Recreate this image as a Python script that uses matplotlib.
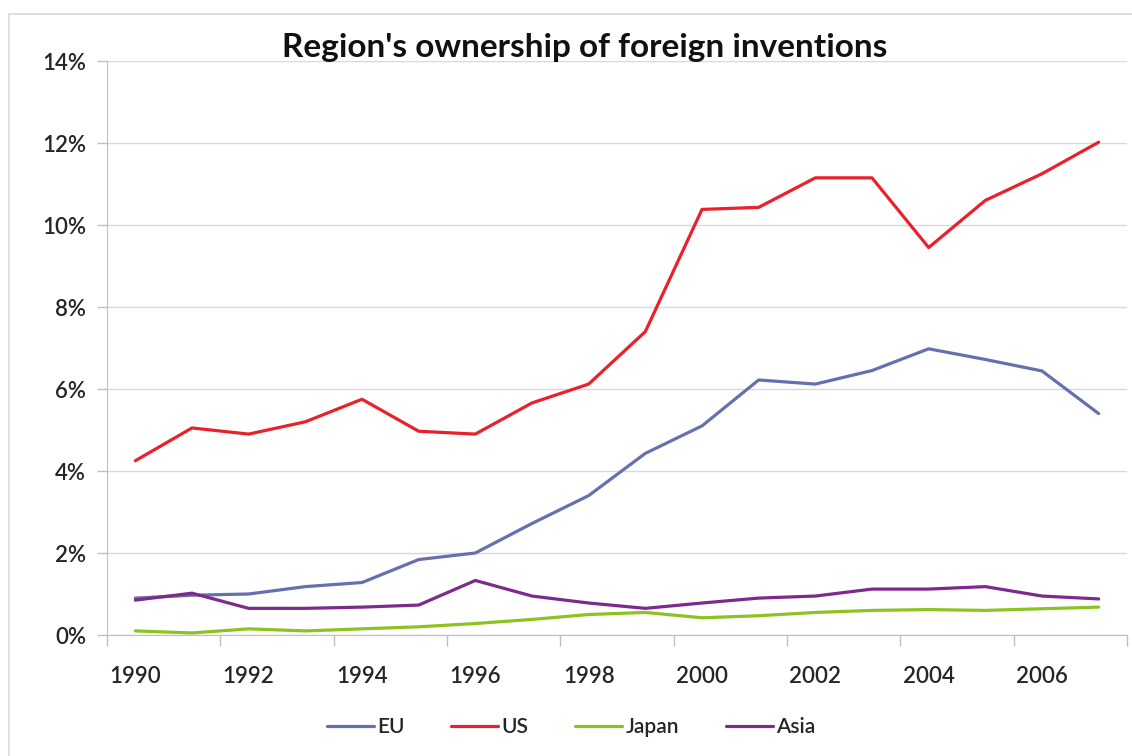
import matplotlib
matplotlib.use("Agg")
import matplotlib.pyplot as plt
from matplotlib.patches import Rectangle
import numpy as np

years = list(range(1990, 2008))
eu = [0.90, 0.97, 1.00, 1.18, 1.28, 1.84, 2.00, 2.72, 3.40, 4.43, 5.10, 6.22, 6.12, 6.45, 6.98, 6.72, 6.44, 5.40]
us = [4.25, 5.05, 4.90, 5.20, 5.75, 4.97, 4.90, 5.66, 6.12, 7.40, 10.38, 10.43, 11.15, 11.15, 9.45, 10.60, 11.25, 12.02]
japan = [0.10, 0.05, 0.15, 0.10, 0.15, 0.20, 0.28, 0.38, 0.50, 0.55, 0.42, 0.47, 0.55, 0.60, 0.62, 0.60, 0.64, 0.68]
asia = [0.85, 1.02, 0.65, 0.65, 0.68, 0.73, 1.33, 0.95, 0.78, 0.65, 0.78, 0.90, 0.95, 1.12, 1.12, 1.18, 0.95, 0.88]
series_names = ["EU", "US", "Japan", "Asia"]
series_colors = ["#6670AE", "#E8212A", "#8CC320", "#7C2A8C"]
yticks = [0, 2, 4, 6, 8, 10, 12, 14]

plt.rcParams['font.family'] = ['Lato', 'DejaVu Sans']
TXT = "#262626"

W, H = 1132, 756
fig = plt.figure(figsize=(W / 100, H / 100), dpi=100)
ax = fig.add_axes([107 / W, 1 - 635 / H, (1127 - 107) / W, (635 - 61) / H])

# outer chart frame
fig.patches.append(Rectangle((9 / W, -0.1), 1.2, 1 - 14 / H + 0.1, transform=fig.transFigure,
                             fill=False, edgecolor="#D9D9D9", linewidth=1.2))

x = np.arange(len(years))
for vals, name, col in zip([eu, us, japan, asia], series_names, series_colors):
    ax.plot(x, vals, color=col, linewidth=2.3, label=name, solid_capstyle='round')

ax.set_xlim(-0.5, len(years) - 0.5)
ax.set_ylim(0, 14)
ax.set_yticks(yticks)
ax.set_yticklabels([f"{v}%" for v in yticks])
ax.yaxis.grid(True, color="#D9D9D9", linewidth=1.0)
ax.set_axisbelow(True)

# x ticks: marks at category boundaries every 2, labels at even categories
ax.set_xticks(np.arange(-0.5, len(years), 2))
ax.set_xticklabels([])
ax.set_xticks(x[::2], minor=True)
ax.set_xticklabels([str(y) for y in years[::2]], minor=True)
ax.tick_params(axis='x', which='major', length=8, color="#BFBFBF", width=1)
ax.tick_params(axis='x', which='minor', length=0, pad=22, labelsize=16, labelcolor=TXT)
ax.tick_params(axis='y', length=7, color="#BFBFBF", width=1, labelsize=16, labelcolor=TXT, pad=8)
for lab in ax.get_xticklabels(minor=True) + ax.get_yticklabels():
    lab.set_fontweight('semibold')

for s in ['top', 'right']:
    ax.spines[s].set_visible(False)
ax.spines['left'].set_color("#BFBFBF")
ax.spines['bottom'].set_color("#BFBFBF")

fig.text(585 / W, 1 - 48 / H, "Region's ownership of foreign inventions", ha='center', va='center',
         fontsize=24, fontweight='bold', color="#111111")

leg = fig.legend(loc='center', bbox_to_anchor=(571 / W, 1 - 727 / H), ncol=4, frameon=False,
                 prop={'size': 15, 'weight': 'semibold'},
                 handlelength=2.25, columnspacing=2.25, handletextpad=0.15)
for t in leg.get_texts():
    t.set_color(TXT)

fig.savefig("out.png", dpi=100)
